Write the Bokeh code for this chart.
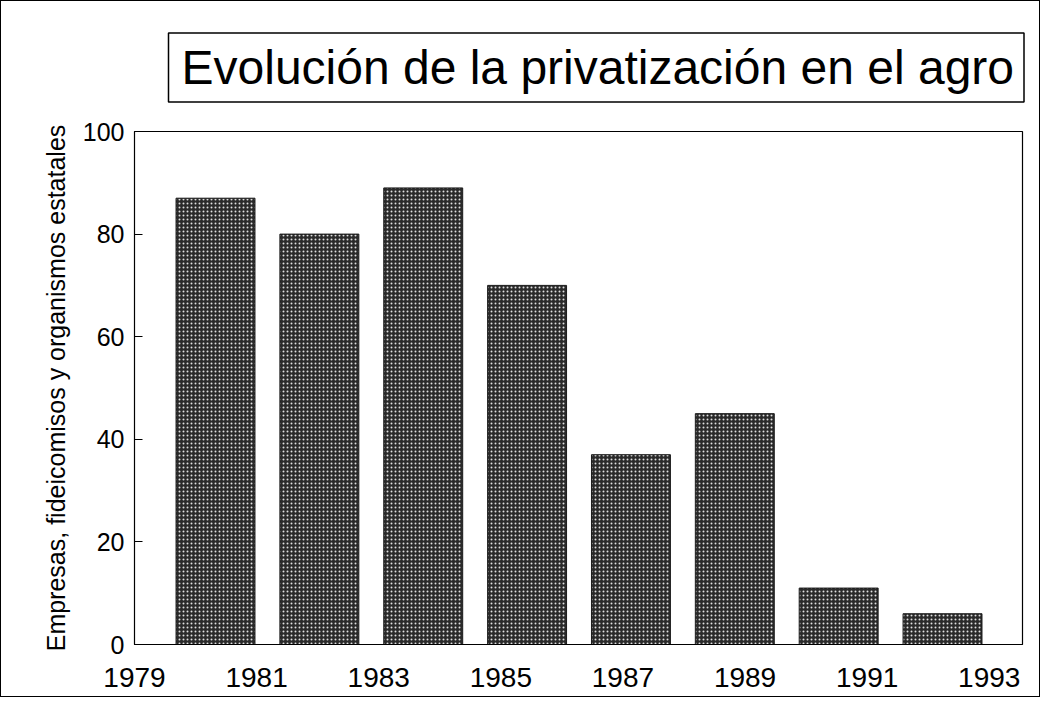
import numpy as np
from bokeh.plotting import figure
from bokeh.models import Range1d, FixedTicker, Title
from bokeh.embed import file_html
from bokeh.resources import INLINE

title_text = "Evolución de la privatización en el agro"
y_label = "Empresas, fideicomisos y organismos estatales"
tick_labels = ["1979", "1981", "1983", "1985", "1987", "1989", "1991", "1993"]
values = [87, 80, 89, 70, 37, 45, 11, 6]
y_ticks = [0, 20, 40, 60, 80, 100]

FONT = "Liberation Sans"

slots = list(range(len(values)))
x_lo, x_hi = -0.78, len(values) - 1 + 0.77
tick_pos = list(np.linspace(x_lo, 7.45, len(tick_labels)))

p = figure(width=1040, height=697, output_backend="svg", toolbar_location=None,
           x_range=Range1d(x_lo, x_hi), y_range=Range1d(0, 100),
           min_border_left=133, min_border_right=19, min_border_top=130,
           min_border_bottom=54)

p.title = Title(text=title_text, text_font=FONT, text_font_size="48px",
                text_font_style="normal", text_color="black", align="left",
                offset=34, standoff=59, border_line_color="black",
                border_line_width=1.5, background_fill_color="white",
                padding={"left": 13, "right": 10, "top": 8, "bottom": 8})

p.vbar(x=slots, top=values, width=0.76, bottom=0,
       fill_color="#2a2a2a", line_color="#1a1a1a", line_width=1,
       hatch_pattern="dot", hatch_color="white", hatch_scale=4, hatch_alpha=0.85)

p.xgrid.visible = False
p.ygrid.visible = False
p.outline_line_color = "black"
p.outline_line_width = 1.2

xa = p.xaxis[0]
xa.ticker = FixedTicker(ticks=tick_pos)
xa.major_label_overrides = {float(t): lab for t, lab in zip(tick_pos, tick_labels)}
xa.major_tick_line_color = None
xa.minor_tick_line_color = None
xa.axis_line_color = "black"
xa.major_label_text_font = FONT
xa.major_label_text_font_size = "28px"
xa.major_label_text_color = "black"
xa.major_label_standoff = 17

ya = p.yaxis[0]
ya.ticker = FixedTicker(ticks=y_ticks)
ya.major_tick_in = 8
ya.major_tick_out = 0
ya.minor_tick_line_color = None
ya.axis_line_color = "black"
ya.major_label_text_font = FONT
ya.major_label_text_font_size = "25px"
ya.major_label_text_color = "black"
ya.major_label_standoff = 10
ya.axis_label = y_label
ya.axis_label_text_font = FONT
ya.axis_label_text_font_size = "25px"
ya.axis_label_text_font_style = "normal"
ya.axis_label_text_color = "black"
ya.axis_label_standoff = 10

p.styles = {"border": "1px solid black"}

open("out.html", "w").write(file_html(p, INLINE))
